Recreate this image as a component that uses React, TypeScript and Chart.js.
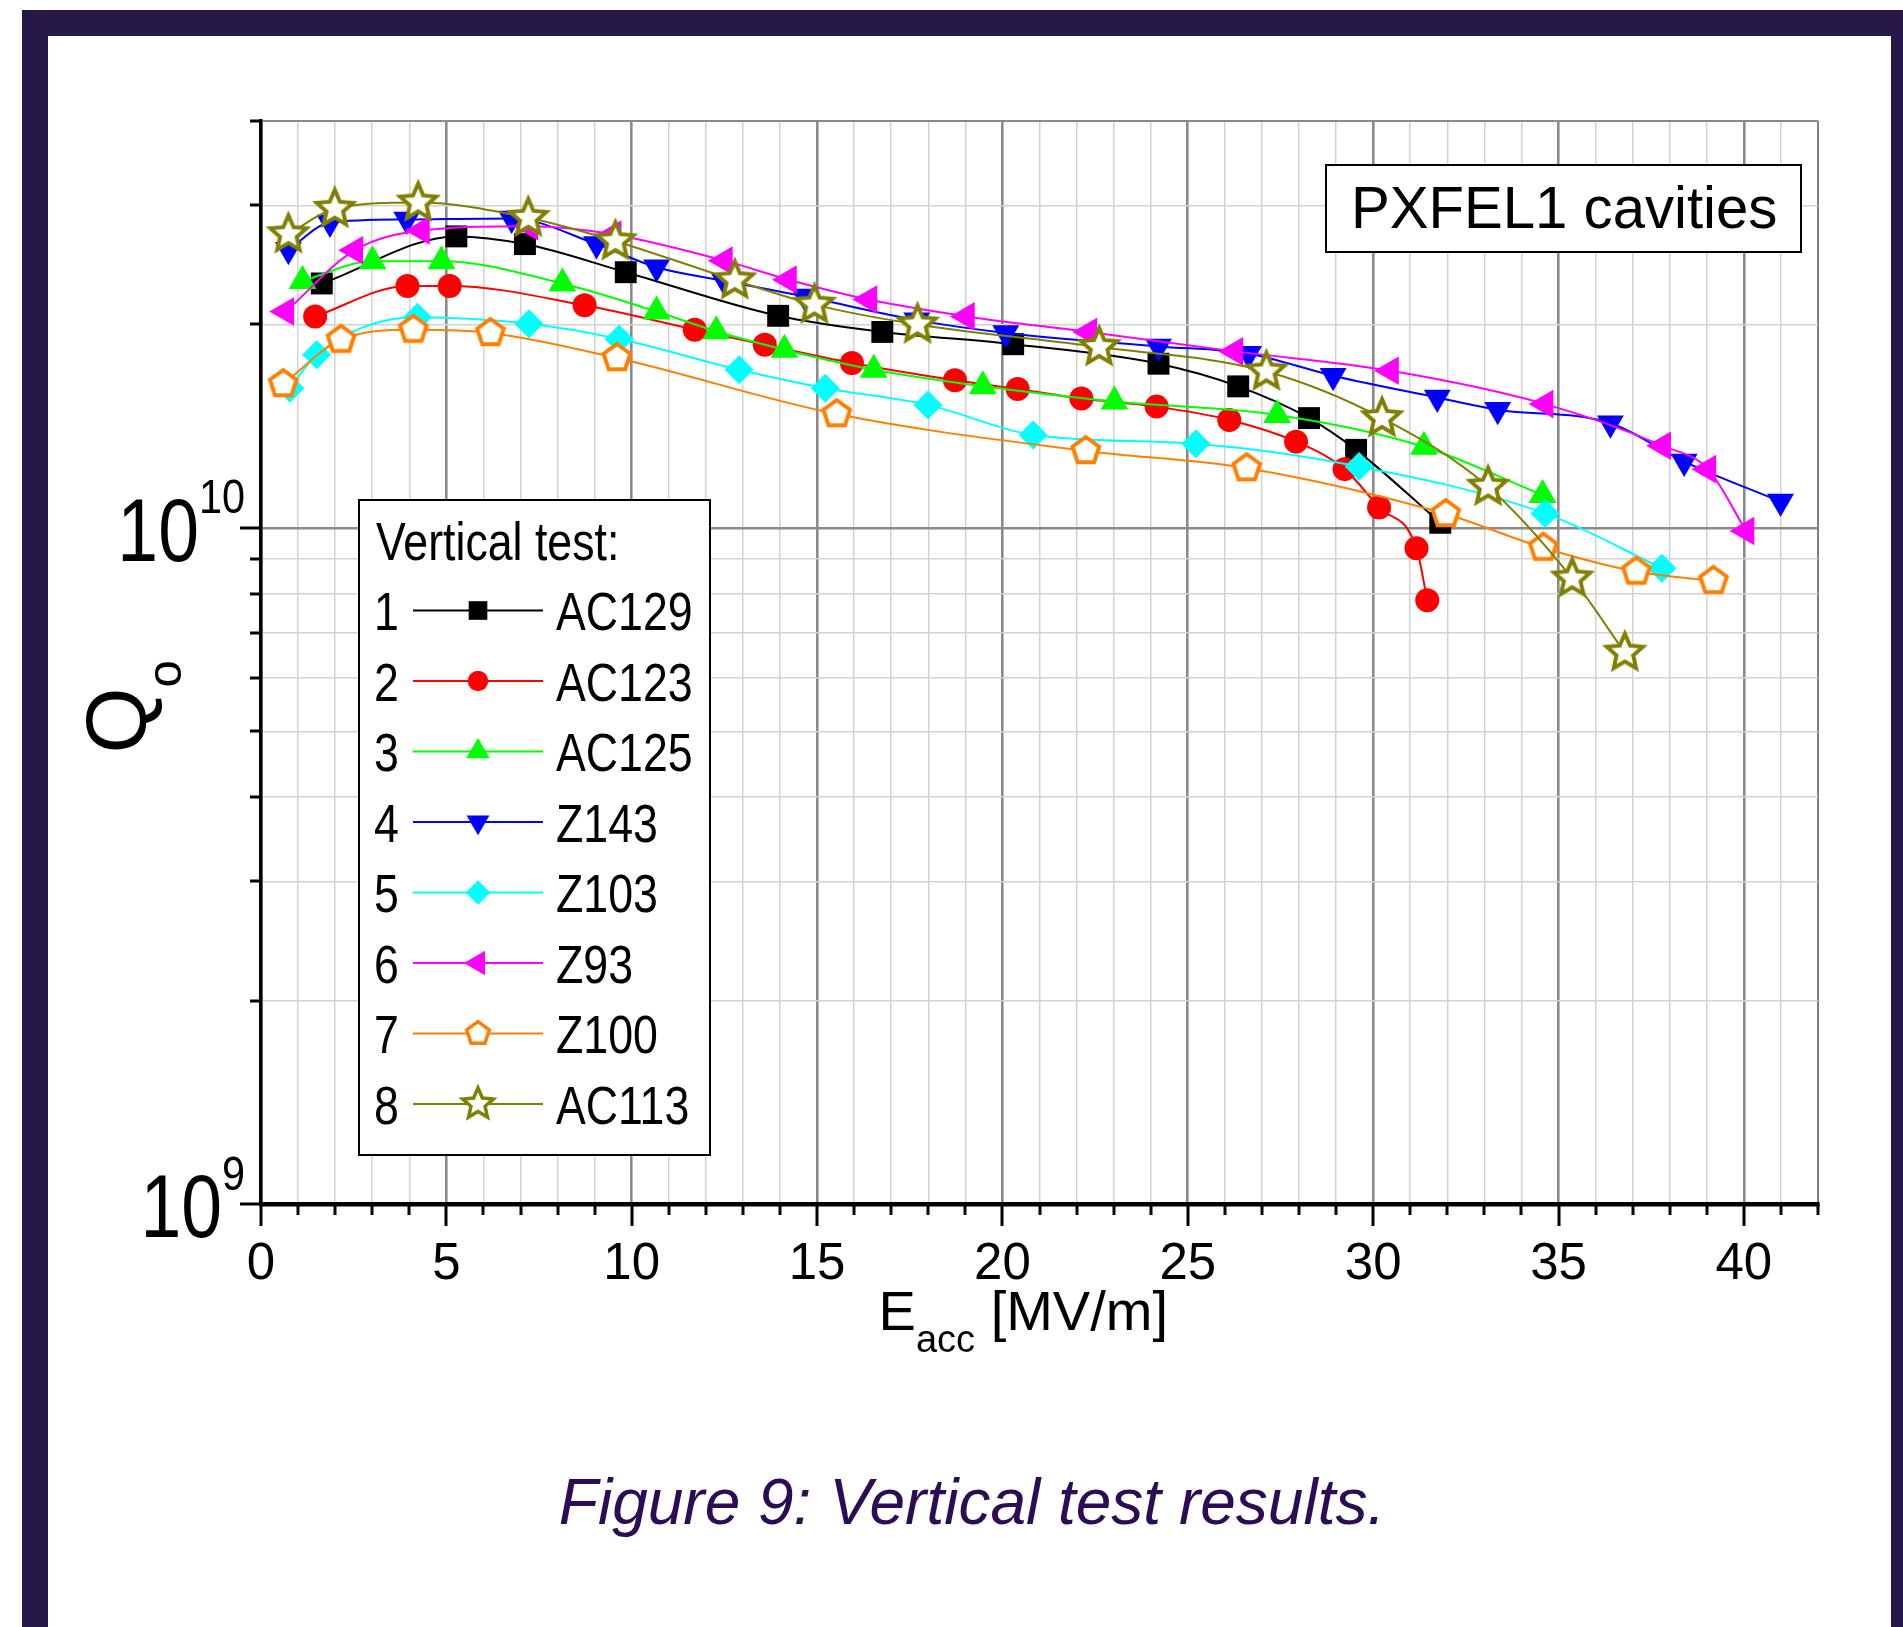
import React, { useEffect, useRef } from 'react';
import { Chart, registerables } from 'chart.js';

Chart.register(...registerables);

const FONT = '"Liberation Sans", Arial, Helvetica, sans-serif';

// ---------- axes ----------
const X_MIN = 0;
const X_MAX = 42;
const X_LABEL_VALUES = [0, 5, 10, 15, 20, 25, 30, 35, 40];
const Y_MIN = 1e9;
const Y_MAX = 4e10;
const Y_TICK_VALUES = [1e9, 2e9, 3e9, 4e9, 5e9, 6e9, 7e9, 8e9, 9e9, 1e10, 2e10, 3e10, 4e10];
const Y_LABEL_VALUES = [1e9, 1e10];
const Y_LABEL_EXPONENTS = ['9', '10'];

// ---------- series ----------
const SERIES_NUMBERS = ['1', '2', '3', '4', '5', '6', '7', '8'];
const SERIES_NAMES = ['AC129', 'AC123', 'AC125', 'Z143', 'Z103', 'Z93', 'Z100', 'AC113'];

const AC129_E = [1.64, 5.27, 7.12, 9.84, 13.95, 16.76, 20.29, 24.21, 26.36, 28.27, 29.54, 31.81];
const AC129_Q = [2.30e10, 2.70e10, 2.63e10, 2.39e10, 2.06e10, 1.95e10, 1.87e10, 1.75e10, 1.62e10, 1.454e10, 1.305e10, 1.018e10];

const AC123_E = [1.46, 3.95, 5.09, 8.73, 11.70, 13.59, 15.94, 18.72, 20.41, 22.13, 24.16, 26.12, 27.92, 29.23, 30.16, 31.17, 31.46];
const AC123_Q = [2.056e10, 2.28e10, 2.28e10, 2.135e10, 1.965e10, 1.866e10, 1.754e10, 1.654e10, 1.606e10, 1.554e10, 1.512e10, 1.445e10, 1.342e10, 1.222e10, 1.072e10, 0.933e10, 0.782e10];

const AC125_E = [1.12, 3.01, 4.87, 8.13, 10.67, 12.28, 14.12, 16.53, 19.47, 23.02, 27.41, 31.37, 34.57];
const AC125_Q = [2.32e10, 2.48e10, 2.48e10, 2.30e10, 2.09e10, 1.954e10, 1.835e10, 1.714e10, 1.62e10, 1.538e10, 1.47e10, 1.319e10, 1.119e10];

const Z143_E = [0.74, 1.86, 3.93, 6.76, 9.05, 10.67, 12.5, 14.67, 17.69, 20.09, 24.21, 26.64, 28.92, 31.73, 33.36, 36.40, 38.39, 40.99];
const Z143_Q = [2.58e10, 2.83e10, 2.86e10, 2.87e10, 2.63e10, 2.43e10, 2.32e10, 2.20e10, 2.03e10, 1.943e10, 1.856e10, 1.811e10, 1.68e10, 1.56e10, 1.496e10, 1.429e10, 1.254e10, 1.094e10];

const Z103_E = [0.78, 1.50, 4.22, 7.23, 9.66, 12.9, 15.22, 17.99, 20.83, 25.22, 29.62, 34.64, 37.79];
const Z103_Q = [1.61e10, 1.804e10, 2.05e10, 2.005e10, 1.904e10, 1.714e10, 1.61e10, 1.521e10, 1.373e10, 1.332e10, 1.233e10, 1.051e10, 0.872e10];

const Z93_E = [0.67, 2.53, 4.33, 7.25, 9.50, 12.50, 14.23, 16.40, 19.03, 22.33, 26.27, 30.47, 34.64, 37.81, 39.03, 40.06];
const Z93_Q = [2.09e10, 2.576e10, 2.754e10, 2.795e10, 2.718e10, 2.486e10, 2.33e10, 2.177e10, 2.056e10, 1.95e10, 1.825e10, 1.708e10, 1.525e10, 1.323e10, 1.222e10, 0.99e10];

const Z100_E = [0.60, 2.16, 4.11, 6.19, 9.60, 15.53, 22.25, 26.59, 31.96, 34.59, 37.10, 39.18];
const Z100_Q = [1.633e10, 1.899e10, 1.965e10, 1.943e10, 1.784e10, 1.474e10, 1.30e10, 1.226e10, 1.049e10, 0.935e10, 0.862e10, 0.835e10];

const AC113_E = [0.74, 1.99, 4.24, 7.21, 9.56, 12.78, 14.93, 17.71, 22.61, 27.12, 30.24, 33.10, 35.37, 36.79];
const AC113_Q = [2.72e10, 2.966e10, 3.03e10, 2.876e10, 2.656e10, 2.325e10, 2.14e10, 2.00e10, 1.852e10, 1.704e10, 1.454e10, 1.151e10, 0.842e10, 0.654e10];

const SERIES_E = [AC129_E, AC123_E, AC125_E, Z143_E, Z103_E, Z93_E, Z100_E, AC113_E];
const SERIES_Q = [AC129_Q, AC123_Q, AC125_Q, Z143_Q, Z103_Q, Z93_Q, Z100_Q, AC113_Q];

// ---------- styles ----------
const SERIES_COLORS = ['#000000', '#ff0000', '#00ff00', '#0000ff', '#00ffff', '#ff00ff', '#ff8000', '#808000'];
type Kind = 'rect' | 'circle' | 'triangle' | 'triangleDown' | 'triangleLeft' | 'rectRot' | 'pentagon' | 'star';
const SERIES_KINDS: Kind[] = ['rect', 'circle', 'triangle', 'triangleDown', 'rectRot', 'triangleLeft', 'pentagon', 'star'];
const SERIES_RADII = [15.5, 12, 16, 15.5, 14.5, 16.5, 14, 19];

const TITLE_COLOR = '#000';
const CAPTION_COLOR = '#2c0c55';
const FRAME_COLOR = '#26194a';

function shapePath(ctx: CanvasRenderingContext2D, kind: Kind, x: number, y: number, r: number) {
  ctx.beginPath();
  if (kind === 'rect') {
    const h = Math.SQRT1_2 * r;
    ctx.rect(x - h, y - h, 2 * h, 2 * h);
  } else if (kind === 'circle') {
    ctx.arc(x, y, r, 0, Math.PI * 2);
  } else if (kind === 'triangle' || kind === 'triangleDown' || kind === 'triangleLeft') {
    let rad = kind === 'triangle' ? 0 : kind === 'triangleDown' ? Math.PI : Math.PI * 1.5;
    for (let k = 0; k < 3; k++) {
      const px = x + Math.sin(rad) * r;
      const py = y - Math.cos(rad) * r;
      if (k === 0) ctx.moveTo(px, py); else ctx.lineTo(px, py);
      rad += (Math.PI * 2) / 3;
    }
    ctx.closePath();
  } else if (kind === 'rectRot') {
    ctx.moveTo(x - r, y);
    ctx.lineTo(x, y - r);
    ctx.lineTo(x + r, y);
    ctx.lineTo(x, y + r);
    ctx.closePath();
  } else if (kind === 'pentagon') {
    for (let k = 0; k < 5; k++) {
      const a = -Math.PI / 2 + (k * Math.PI * 2) / 5;
      const px = x + r * Math.cos(a);
      const py = y + r * Math.sin(a);
      if (k === 0) ctx.moveTo(px, py); else ctx.lineTo(px, py);
    }
    ctx.closePath();
  } else if (kind === 'star') {
    for (let k = 0; k < 10; k++) {
      const a = -Math.PI / 2 + (k * Math.PI) / 5;
      const rr = k % 2 === 0 ? r : r * 0.46;
      const px = x + rr * Math.cos(a);
      const py = y + rr * Math.sin(a);
      if (k === 0) ctx.moveTo(px, py); else ctx.lineTo(px, py);
    }
    ctx.closePath();
  }
}

function drawMarker(ctx: CanvasRenderingContext2D, kind: Kind, x: number, y: number, r: number, color: string, lw: number) {
  ctx.save();
  shapePath(ctx, kind, x, y, r);
  if (kind === 'pentagon' || kind === 'star') {
    ctx.fillStyle = '#ffffff';
    ctx.fill();
    ctx.lineWidth = lw;
    ctx.strokeStyle = color;
    ctx.lineJoin = 'miter';
    ctx.stroke();
  } else {
    ctx.fillStyle = color;
    ctx.fill();
  }
  ctx.restore();
}

function makeOpenMarker(kind: Kind, r: number, color: string, lw: number): HTMLCanvasElement {
  const pad = lw + 3;
  const size = Math.ceil(2 * (r + pad));
  const c = document.createElement('canvas');
  c.width = size;
  c.height = size;
  const ctx = c.getContext('2d')!;
  drawMarker(ctx, kind, size / 2, size / 2, r, color, lw);
  return c;
}

function drawText(ctx: CanvasRenderingContext2D, text: string, x: number, y: number, size: number, sx = 1, color = '#000', italic = false) {
  ctx.save();
  ctx.font = `${italic ? 'italic ' : ''}${size}px ${FONT}`;
  ctx.fillStyle = color;
  ctx.textAlign = 'left';
  ctx.textBaseline = 'alphabetic';
  ctx.translate(x, y);
  ctx.scale(sx, 1);
  ctx.fillText(text, 0, 0);
  ctx.restore();
}

function textWidth(ctx: CanvasRenderingContext2D, text: string, size: number, sx = 1) {
  ctx.save();
  ctx.font = `${size}px ${FONT}`;
  const w = ctx.measureText(text).width * sx;
  ctx.restore();
  return w;
}

const decorPlugin = {
  id: 'decor',
  afterDraw(chart: any) {
    const ctx: CanvasRenderingContext2D = chart.ctx;
    const xs = chart.scales.x;
    const ys = chart.scales.y;
    const area = chart.chartArea;

    // tick marks
    ctx.save();
    ctx.strokeStyle = '#000';
    ctx.lineWidth = 3;
    for (const v of Y_TICK_VALUES) {
      const py = Math.round(ys.getPixelForValue(v));
      const major = Y_LABEL_VALUES.includes(v);
      const len = major ? 21 : 11;
      ctx.beginPath();
      ctx.moveTo(area.left - len, py);
      ctx.lineTo(area.left, py);
      ctx.stroke();
    }
    for (let v = X_MIN; v <= X_MAX; v++) {
      const px = Math.round(xs.getPixelForValue(v));
      const major = v % 5 === 0;
      const len = major ? 22 : 11;
      ctx.beginPath();
      ctx.moveTo(px, area.bottom);
      ctx.lineTo(px, area.bottom + len);
      ctx.stroke();
    }
    ctx.restore();

    // y tick labels (10^n)
    Y_LABEL_VALUES.forEach((v, i) => {
      const py = ys.getPixelForValue(v);
      const exp = Y_LABEL_EXPONENTS[i];
      const wMain = textWidth(ctx, '10', 89, 0.824);
      const wSup = textWidth(ctx, exp, 49, 0.845);
      const right = 245;
      const mx = right - wSup - wMain;
      drawText(ctx, '10', mx, py + 33, 89, 0.824);
      drawText(ctx, exp, mx + wMain, py - 14.5, 49, 0.845);
    });

    // y title Q_o
    ctx.save();
    ctx.translate(146, 753.6);
    ctx.rotate(-Math.PI / 2);
    ctx.fillStyle = TITLE_COLOR;
    ctx.textBaseline = 'alphabetic';
    ctx.font = `85px ${FONT}`;
    ctx.fillText('Q', 0, 0);
    const wQ = ctx.measureText('Q').width;
    ctx.font = `49px ${FONT}`;
    ctx.fillText('o', wQ, 35);
    ctx.restore();

    // x title E_acc [MV/m]
    const ex = 878.6;
    drawText(ctx, 'E', ex, 1330, 56);
    const wE = textWidth(ctx, 'E', 56);
    drawText(ctx, 'acc', ex + wE, 1352, 38);
    const wAcc = textWidth(ctx, 'acc', 38);
    const wSp = textWidth(ctx, ' ', 56);
    drawText(ctx, '[MV/m]', ex + wE + wAcc + wSp, 1330, 56);

    // legend box
    ctx.save();
    ctx.fillStyle = '#fff';
    ctx.fillRect(359, 500, 351, 655);
    ctx.strokeStyle = '#000';
    ctx.lineWidth = 2;
    ctx.strokeRect(359, 500, 351, 655);
    ctx.restore();
    drawText(ctx, 'Vertical test:', 376, 560, 53.5, 0.835);
    SERIES_NAMES.forEach((name, i) => {
      const b = 630 + i * 70.5;
      const ly = b - 19.5;
      drawText(ctx, SERIES_NUMBERS[i], 374, b, 53.5, 0.835);
      ctx.save();
      ctx.strokeStyle = SERIES_COLORS[i];
      ctx.lineWidth = 2;
      ctx.beginPath();
      ctx.moveTo(413, ly);
      ctx.lineTo(543, ly);
      ctx.stroke();
      ctx.restore();
      drawMarker(ctx, SERIES_KINDS[i], 478, ly, SERIES_RADII[i] * 0.85, SERIES_COLORS[i], 3.5);
      drawText(ctx, name, 556, b, 53.5, 0.835);
    });

    // PXFEL1 box
    ctx.save();
    ctx.fillStyle = '#fff';
    ctx.fillRect(1326, 165, 475, 87);
    ctx.strokeStyle = '#000';
    ctx.lineWidth = 2;
    ctx.strokeRect(1326, 165, 475, 87);
    ctx.restore();
    drawText(ctx, 'PXFEL1 cavities', 1351, 228.3, 59, 0.985);

    // caption
    ctx.save();
    ctx.font = `italic 64px ${FONT}`;
    ctx.fillStyle = CAPTION_COLOR;
    ctx.textAlign = 'center';
    ctx.textBaseline = 'alphabetic';
    ctx.fillText('Figure 9: Vertical test results.', 972, 1524);
    ctx.restore();
  },
};

export default function App() {
  const canvasRef = useRef<HTMLCanvasElement | null>(null);

  useEffect(() => {
    const canvas = canvasRef.current;
    if (!canvas) return;

    const datasets = SERIES_NAMES.map((name, i) => {
      const kind = SERIES_KINDS[i];
      const color = SERIES_COLORS[i];
      let pointStyle: any = kind;
      let rotation = 0;
      if (kind === 'triangleDown') { pointStyle = 'triangle'; rotation = 180; }
      if (kind === 'triangleLeft') { pointStyle = 'triangle'; rotation = 270; }
      if (kind === 'pentagon' || kind === 'star') pointStyle = makeOpenMarker(kind, SERIES_RADII[i], color, 4);
      return {
        label: name,
        data: SERIES_E[i].map((e, k) => ({ x: e, y: SERIES_Q[i][k] })),
        showLine: true,
        borderColor: color,
        backgroundColor: color,
        borderWidth: 2,
        pointStyle,
        rotation,
        pointRadius: SERIES_RADII[i],
        pointBorderWidth: 0,
        pointBackgroundColor: color,
        pointBorderColor: color,
        cubicInterpolationMode: 'monotone' as const,
        order: SERIES_NAMES.length - i,
        clip: false as any,
      };
    });

    const chart = new Chart(canvas, {
      type: 'scatter',
      data: { datasets },
      options: {
        animation: false,
        responsive: false,
        devicePixelRatio: 1,
        layout: { padding: { left: 0, top: 121, right: 85, bottom: 0 } },
        plugins: { legend: { display: false }, tooltip: { enabled: false } },
        scales: {
          x: {
            type: 'linear',
            position: 'bottom',
            min: X_MIN,
            max: X_MAX,
            afterBuildTicks: (s: any) => {
              const t: any[] = [];
              for (let v = X_MIN; v <= X_MAX; v++) t.push({ value: v });
              s.ticks = t;
            },
            afterFit: (s: any) => { s.height = 423; },
            ticks: {
              autoSkip: false,
              maxRotation: 0,
              minRotation: 0,
              padding: 30,
              color: '#000',
              font: { family: FONT, size: 51 },
              callback: (v: any) => (X_LABEL_VALUES.includes(Number(v)) ? String(v) : ''),
            },
            grid: {
              drawTicks: false,
              color: (c: any) => {
                const v = c.tick ? c.tick.value : 0;
                if (v === X_MAX) return '#808080';
                return v % 5 === 0 ? '#8a8a8a' : '#d2d2d2';
              },
              lineWidth: (c: any) => {
                const v = c.tick ? c.tick.value : 0;
                if (v === X_MAX) return 2;
                return v % 5 === 0 ? 2.6 : 1.5;
              },
            },
            border: { display: true, color: '#000', width: 4.5 },
          },
          y: {
            type: 'logarithmic',
            position: 'left',
            min: Y_MIN,
            max: Y_MAX,
            afterBuildTicks: (s: any) => { s.ticks = Y_TICK_VALUES.map((v) => ({ value: v })); },
            afterFit: (s: any) => { s.width = 261; },
            ticks: { display: false },
            grid: {
              drawTicks: false,
              color: (c: any) => {
                const v = c.tick ? c.tick.value : 0;
                if (v === 1e10 || v === Y_MAX) return '#8a8a8a';
                return '#d2d2d2';
              },
              lineWidth: (c: any) => {
                const v = c.tick ? c.tick.value : 0;
                if (v === 1e10) return 2.6;
                if (v === Y_MAX) return 2;
                return 1.5;
              },
            },
            border: { display: true, color: '#000', width: 3.5 },
          },
        },
      } as any,
      plugins: [decorPlugin],
    });

    return () => chart.destroy();
  }, []);

  return (
    <div style={{ position: 'absolute', left: 0, top: 0, width: 1903, height: 1627, overflow: 'hidden', background: '#fff' }}>
      <div style={{ position: 'absolute', left: 22, top: 10, width: 1881, height: 1617, background: FRAME_COLOR }} />
      <div style={{ position: 'absolute', left: 48, top: 36, width: 1843, height: 1591, background: '#fff' }} />
      <canvas ref={canvasRef} width={1903} height={1627} style={{ position: 'absolute', left: 0, top: 0, width: 1903, height: 1627 }} />
    </div>
  );
}
